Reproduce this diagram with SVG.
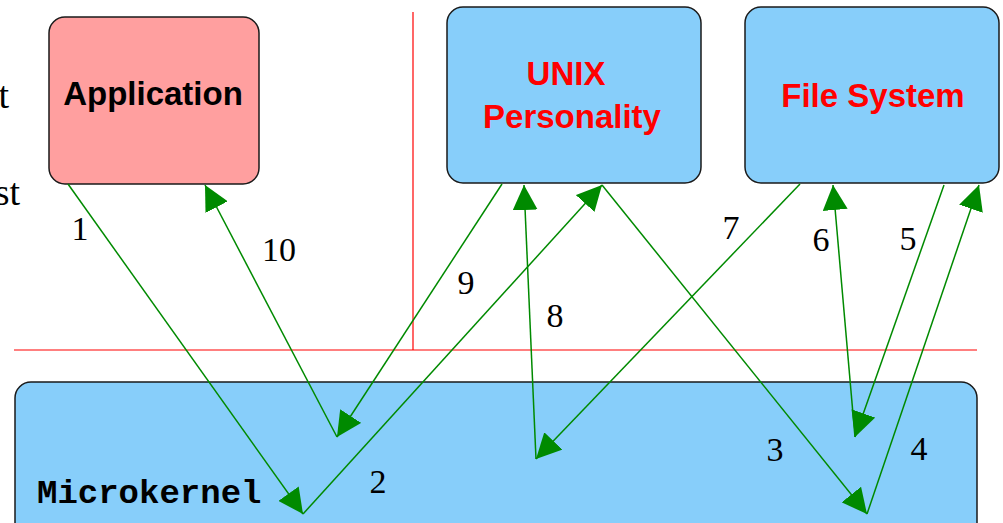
<svg xmlns="http://www.w3.org/2000/svg" width="1003" height="523" viewBox="0 0 1003 523">
  <style>
    .box { stroke: #1a1a1a; stroke-width: 1.5; }
    .kernel { fill: #87cefa; }
    .app { fill: #ff9f9f; }
    .title { font-family: "Liberation Sans", Arial, sans-serif; font-weight: bold; font-size: 33px; text-anchor: middle; }
    .red { fill: #ff0000; }
    .num { font-family: "Liberation Serif", "Times New Roman", serif; font-size: 34px; fill: #000; text-anchor: middle; }
    .edge { font-family: "Liberation Serif", "Times New Roman", serif; font-size: 38px; fill: #000; text-anchor: end; }
    .msg { stroke: #008a00; stroke-width: 1.5; fill: none; marker-end: url(#head); }
  </style>
  <defs>
    <marker id="head" markerUnits="userSpaceOnUse" markerWidth="25" markerHeight="25" viewBox="0 0 24 24" refX="24" refY="12" orient="auto">
      <path d="M0,0 L24,12 L0,24 z" fill="#008a00"/>
    </marker>
  </defs>

  <rect width="1003" height="523" fill="#ffffff"/>

  <!-- side caption running off the left edge -->
  <text class="edge" x="9" y="108">t</text>
  <text class="edge" x="20" y="205">st</text>

  <!-- user/kernel and server dividers -->
  <g id="dividers" stroke="#ff0000" stroke-width="1.2" fill="none">
    <line x1="413" y1="12" x2="413" y2="350"/>
    <line x1="14" y1="350" x2="977" y2="350"/>
  </g>

  <g id="microkernel">
    <rect class="box kernel" x="15" y="382" width="962" height="170" rx="16"/>
    <text x="37" y="503" font-family="'Liberation Mono', 'Courier New', monospace" font-weight="bold" font-size="34px" fill="#000">Microkernel</text>
  </g>

  <g id="application">
    <rect class="box app" x="49" y="17" width="210" height="167" rx="16"/>
    <text class="title" x="153" y="105">Application</text>
  </g>

  <g id="unix-personality">
    <rect class="box kernel" x="447" y="7" width="254" height="176" rx="16"/>
    <text class="title red" x="566" y="85">UNIX</text>
    <text class="title red" x="572" y="128">Personality</text>
  </g>

  <g id="file-system">
    <rect class="box kernel" x="745" y="7" width="254" height="176" rx="16"/>
    <text class="title red" x="873" y="107">File System</text>
  </g>

  <g id="connectors">
    <line class="msg" x1="68" y1="184" x2="303" y2="514"/>
    <line class="msg" x1="303" y1="514" x2="602" y2="185"/>
    <line class="msg" x1="602" y1="185" x2="867" y2="514"/>
    <line class="msg" x1="867" y1="514" x2="979" y2="185"/>
    <line class="msg" x1="944" y1="185" x2="855" y2="437"/>
    <line class="msg" x1="855" y1="437" x2="833" y2="185"/>
    <line class="msg" x1="800" y1="184" x2="536" y2="459"/>
    <line class="msg" x1="536" y1="459" x2="524" y2="185"/>
    <line class="msg" x1="502" y1="184" x2="337" y2="437"/>
    <line class="msg" x1="337" y1="437" x2="205" y2="185"/>
  </g>

  <g id="labels">
    <text class="num" x="80" y="240">1</text>
    <text class="num" x="378" y="493">2</text>
    <text class="num" x="775" y="461">3</text>
    <text class="num" x="919" y="460">4</text>
    <text class="num" x="908" y="250">5</text>
    <text class="num" x="821" y="251">6</text>
    <text class="num" x="731" y="239">7</text>
    <text class="num" x="555" y="327">8</text>
    <text class="num" x="466" y="294">9</text>
    <text class="num" x="279" y="261">10</text>
  </g>
</svg>
